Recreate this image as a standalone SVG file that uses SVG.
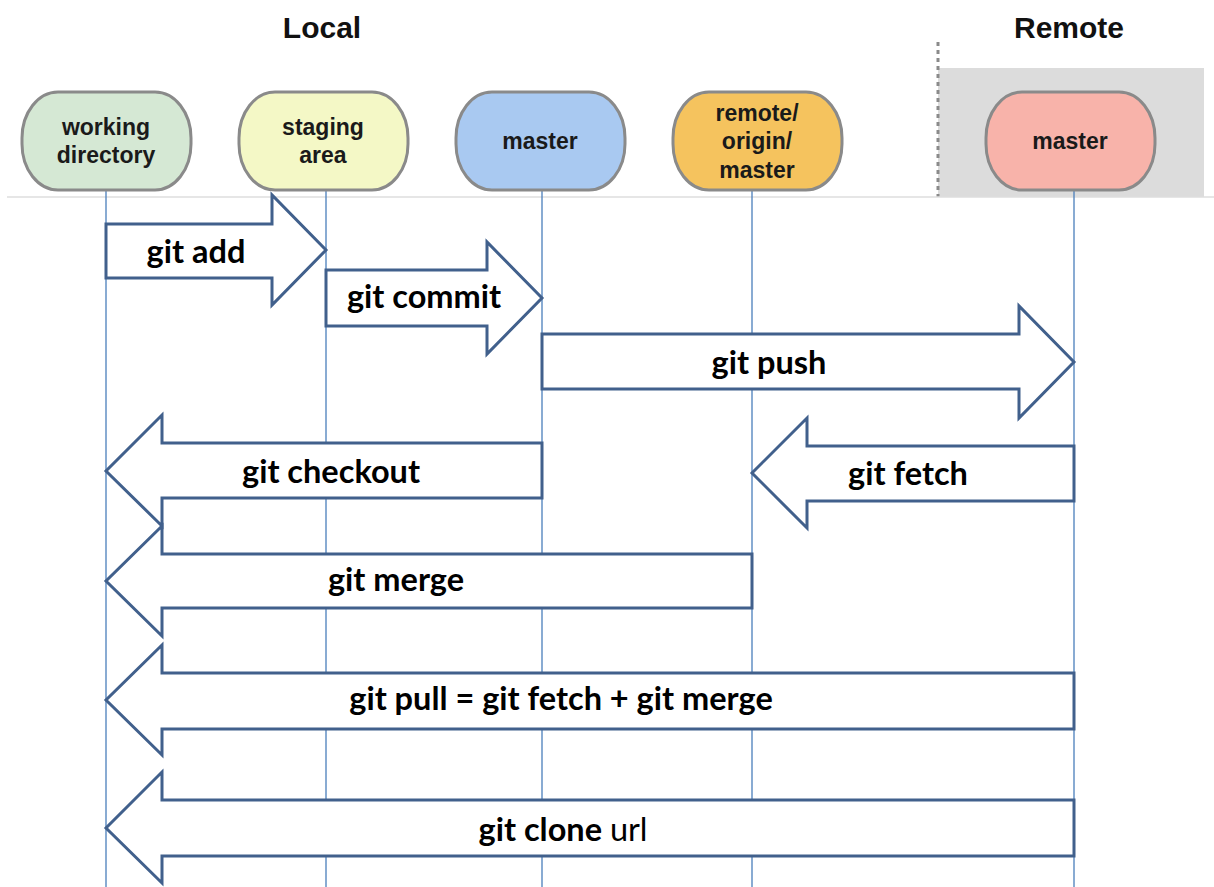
<svg xmlns="http://www.w3.org/2000/svg" width="1214" height="887" viewBox="0 0 1214 887">
<style>
.hdr{font-family:"Liberation Sans",Arial,sans-serif;font-weight:bold;font-size:30px;fill:#111;text-anchor:middle}
.node{stroke:#8a8a8a;stroke-width:3}
.nt{font-family:"Liberation Sans",Arial,sans-serif;font-weight:bold;font-size:23px;fill:#1a1a1a;text-anchor:middle}
.life{stroke:#4a7ebb;stroke-width:1.3}
.arr{fill:#fff;stroke:#41608c;stroke-width:3;stroke-linejoin:miter}
.lbl{font-family:Lato,"Open Sans",sans-serif;font-weight:bold;font-size:32.5px;fill:#000;text-anchor:middle}
.reg{font-weight:normal}
</style>
<rect width="1214" height="887" fill="#fff"/>
<g id="remote-region">
<rect x="938" y="68" width="266" height="129" fill="#dcdcdc"/>
<line x1="938" y1="42" x2="938" y2="197" stroke="#8a8a8a" stroke-width="3" stroke-dasharray="4,4"/>
</g>
<line x1="7" y1="197" x2="1214" y2="197" stroke="#dedede" stroke-width="1.5"/>
<text class="hdr" x="322" y="38">Local</text>
<text class="hdr" x="1069" y="38">Remote</text>
<g id="lifelines">
<line class="life" x1="106" y1="190" x2="106" y2="887"/>
<line class="life" x1="326" y1="190" x2="326" y2="887"/>
<line class="life" x1="542" y1="190" x2="542" y2="887"/>
<line class="life" x1="752" y1="190" x2="752" y2="887"/>
<line class="life" x1="1074" y1="190" x2="1074" y2="887"/>
</g>
<g id="node-working-directory">
<rect class="node" x="22" y="92" width="169" height="98" rx="36" ry="46" fill="#d5e8d4"/>
<text class="nt" x="106" y="135">working</text>
<text class="nt" x="106" y="163">directory</text>
</g>
<g id="node-staging-area">
<rect class="node" x="239" y="92" width="169" height="98" rx="36" ry="46" fill="#f4f8c6"/>
<text class="nt" x="323" y="135">staging</text>
<text class="nt" x="323" y="163">area</text>
</g>
<g id="node-master">
<rect class="node" x="456" y="92" width="169" height="98" rx="36" ry="46" fill="#a9c9f1"/>
<text class="nt" x="540" y="149">master</text>
</g>
<g id="node-remote-origin-master">
<rect class="node" x="673" y="92" width="169" height="98" rx="36" ry="46" fill="#f5c35e"/>
<text class="nt" x="757" y="121">remote/</text>
<text class="nt" x="757" y="149">origin/</text>
<text class="nt" x="757" y="178">master</text>
</g>
<g id="node-remote-master">
<rect class="node" x="986" y="92" width="169" height="98" rx="36" ry="46" fill="#f8b3aa"/>
<text class="nt" x="1070" y="149">master</text>
</g>
<g id="connectors">
<polygon class="arr" points="106,224 272,224 272,195 326,250 272,305 272,278 106,278"/>
<polygon class="arr" points="326,270 487,270 487,242 542,298 487,354 487,326 326,326"/>
<polygon class="arr" points="542,334 1019,334 1019,306 1074,362 1019,418 1019,389 542,389"/>
<polygon class="arr" points="542,443 162,443 162,415 106,471 162,526 162,498 542,498"/>
<polygon class="arr" points="1074,446 807,446 807,418 752,473 807,528 807,501 1074,501"/>
<polygon class="arr" points="752,554 162,554 162,526 106,581 162,636 162,608 752,608"/>
<polygon class="arr" points="1074,673 162,673 162,645 106,700 162,755 162,729 1074,729"/>
<polygon class="arr" points="1074,800 162,800 162,772 106,828 162,883 162,856 1074,856"/>
</g>
<g id="labels">
<text class="lbl" x="196" y="263">git add</text>
<text class="lbl" x="424" y="308">git commit</text>
<text class="lbl" x="769" y="374">git push</text>
<text class="lbl" x="331" y="483">git checkout</text>
<text class="lbl" x="908" y="485">git fetch</text>
<text class="lbl" x="396" y="591">git merge</text>
<text class="lbl" x="561" y="710">git pull = git fetch + git merge</text>
<text class="lbl" x="563" y="841">git clone <tspan class="reg">url</tspan></text>
</g>
</svg>
